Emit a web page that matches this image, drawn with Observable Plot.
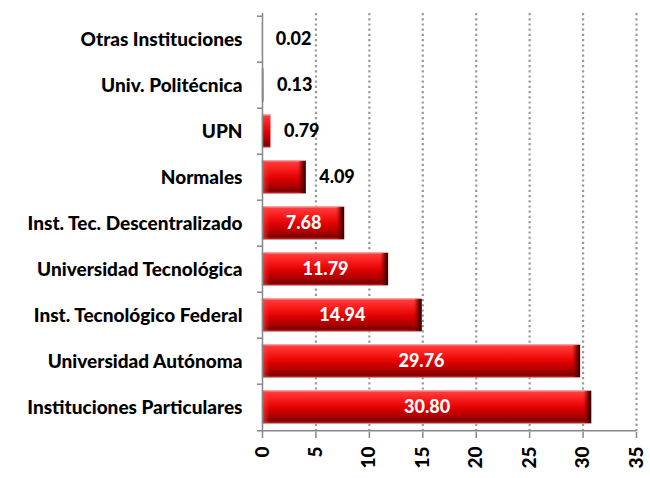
<!DOCTYPE html>
<html>
<head>
<meta charset="utf-8">
<script src="https://cdn.jsdelivr.net/npm/d3@7"></script>
<script src="https://cdn.jsdelivr.net/npm/@observablehq/plot@0.6"></script>
<style>
  html, body { margin: 0; padding: 0; background: #fff; }
  #chart svg { font-family: Lato, "Open Sans", sans-serif; }
</style>
</head>
<body>
<div id="chart"></div>
<script>
const categories = [
  "Otras Instituciones",
  "Univ. Politécnica",
  "UPN",
  "Normales",
  "Inst. Tec. Descentralizado",
  "Universidad Tecnológica",
  "Inst. Tecnológico Federal",
  "Universidad Autónoma",
  "Instituciones Particulares"
];
const values = [0.02, 0.13, 0.79, 4.09, 7.68, 11.79, 14.94, 29.76, 30.80];
const labels = ["0.02", "0.13", "0.79", "4.09", "7.68", "11.79", "14.94", "29.76", "30.80"];
const xTicks = [0, 5, 10, 15, 20, 25, 30, 35];
const gridTicks = [5, 10, 15, 20, 25, 30, 35];

const data = categories.map((c, i) => ({cat: c, value: values[i], label: labels[i]}));
const inside = data.filter(d => d.value >= 5);
const outside = data.filter(d => d.value < 5);
const capped = data.filter(d => d.value >= 3);

const W = 650, H = 478;
const marginTop = 13, marginBottom = 46, marginLeft = 262, marginRight = 14;
const step = (H - marginTop - marginBottom) / categories.length;
const FW = 900;

const chart = Plot.plot({
  width: W,
  height: H,
  marginTop, marginBottom, marginLeft, marginRight,
  style: {fontFamily: "Lato, 'Open Sans', sans-serif", fontSize: "18px", fontWeight: "bold", color: "#000", background: "#fff"},
  x: {domain: [0, 35]},
  y: {domain: categories, padding: 0},
  marks: [
    Plot.ruleX(gridTicks, {stroke: "#999", strokeWidth: 2.2, strokeDasharray: "2.2,3"}),
    Plot.barX(data, {y: "cat", x: "value", fill: "url(#barGrad)", insetTop: 6.5, insetBottom: 6.5, stroke: "#e88", strokeWidth: 0.6}),
    Plot.barX(capped, {y: "cat", x1: "value", x2: "value", insetLeft: -8, fill: "url(#capGrad)", insetTop: 7, insetBottom: 7}),
    Plot.barX(capped, {y: "cat", x1: 0, x2: 0, insetRight: -8, fill: "url(#capGradL)", insetTop: 7, insetBottom: 7}),
    Plot.ruleX([0], {stroke: "#888", strokeWidth: 1.5}),
    Plot.ruleY(categories, {y: d => d, x1: 0, x2: -0.47, dy: -step / 2, stroke: "#888", strokeWidth: 1.5}),
    Plot.ruleY(categories.slice(-1), {y: d => d, x1: 0, x2: -0.47, dy: step / 2, stroke: "#888", strokeWidth: 1.5}),
    Plot.ruleY(categories.slice(-1), {y: d => d, x1: 0, x2: 35, dy: step / 2, stroke: "#888", strokeWidth: 1.5}),
    Plot.axisY({tickSize: 0, tickPadding: 20, label: null, fontSize: 19, fontWeight: FW}),
    Plot.axisX(xTicks, {tickSize: 6, tickPadding: 8, tickRotate: -90, label: null, stroke: "#888", strokeWidth: 1.5, fontSize: 19, fontWeight: FW}),
    Plot.text(inside, {y: "cat", x: d => d.value / 2, text: "label", fill: "#fff", fontSize: 18, fontWeight: FW}),
    Plot.text(outside, {y: "cat", x: "value", text: "label", dx: 13, textAnchor: "start", fill: "#000", fontSize: 18, fontWeight: FW})
  ]
});

const defs = `
<defs>
  <linearGradient id="barGrad" x1="0" y1="0" x2="0" y2="1">
    <stop offset="0" stop-color="#f4a0a0"/>
    <stop offset="0.06" stop-color="#ff3a3a"/>
    <stop offset="0.3" stop-color="#f81818"/>
    <stop offset="0.55" stop-color="#dc0000"/>
    <stop offset="0.8" stop-color="#a80000"/>
    <stop offset="0.93" stop-color="#7a0000"/>
    <stop offset="1" stop-color="#c04040"/>
  </linearGradient>
  <linearGradient id="capGrad" x1="0" y1="0" x2="1" y2="0">
    <stop offset="0" stop-color="#a00000" stop-opacity="0"/>
    <stop offset="0.6" stop-color="#600000" stop-opacity="0.8"/>
    <stop offset="1" stop-color="#200000"/>
  </linearGradient>
  <linearGradient id="capGradL" x1="0" y1="0" x2="1" y2="0">
    <stop offset="0" stop-color="#ff5050" stop-opacity="0.7"/>
    <stop offset="1" stop-color="#ff3030" stop-opacity="0"/>
  </linearGradient>
</defs>`;
chart.insertAdjacentHTML("afterbegin", defs);
document.getElementById("chart").appendChild(chart);
</script>
</body>
</html>
